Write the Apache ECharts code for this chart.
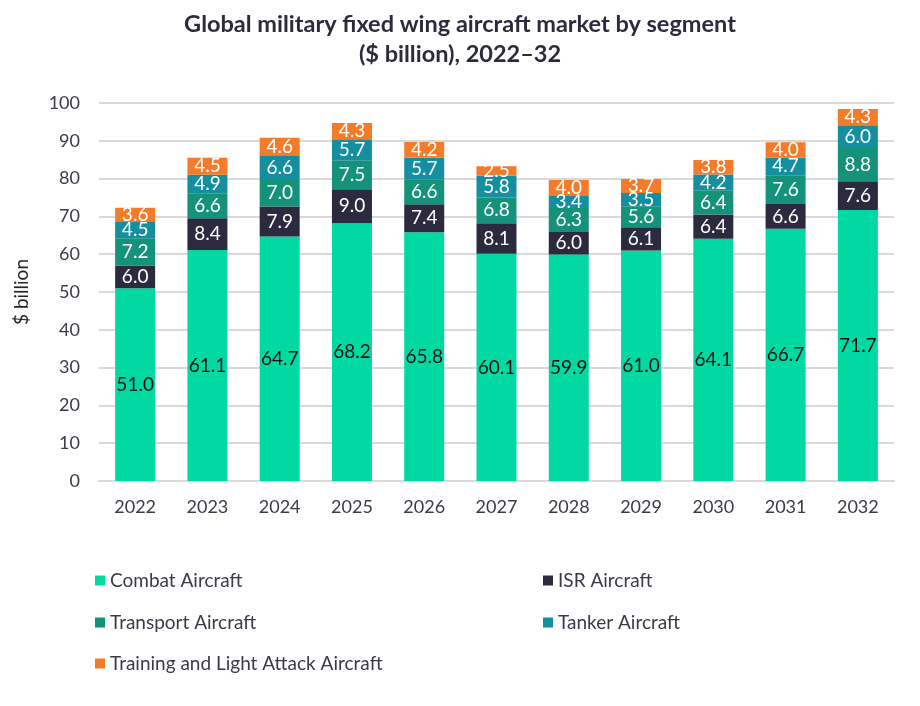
<!DOCTYPE html>
<html><head><meta charset="utf-8">
<script src="https://cdn.jsdelivr.net/npm/echarts@6/dist/echarts.min.js"></script>
<style>html,body{margin:0;padding:0;background:#fff}#c{width:920px;height:706px}</style>
</head><body><div id="c"></div>
<script>
var years = ['2022','2023','2024','2025','2026','2027','2028','2029','2030','2031','2032'];
var combat = [51.0, 61.1, 64.7, 68.2, 65.8, 60.1, 59.9, 61.0, 64.1, 66.7, 71.7];
var isr = [6.0, 8.4, 7.9, 9.0, 7.4, 8.1, 6.0, 6.1, 6.4, 6.6, 7.6];
var transport = [7.2, 6.6, 7.0, 7.5, 6.6, 6.8, 6.3, 5.6, 6.4, 7.6, 8.8];
var tanker = [4.5, 4.9, 6.6, 5.7, 5.7, 5.8, 3.4, 3.5, 4.2, 4.7, 6.0];
var training = [3.6, 4.5, 4.6, 4.3, 4.2, 2.5, 4.0, 3.7, 3.8, 4.0, 4.3];
var yTicks = [0,10,20,30,40,50,60,70,80,90,100];

var FONT = 'Lato, "Open Sans", sans-serif';
var TXT = '#3b3a48';
var names = ['Combat Aircraft','ISR Aircraft','Transport Aircraft','Tanker Aircraft','Training and Light Attack Aircraft'];
var colors = ['#00daa2','#2c2a3e','#14927a','#158f9f','#f47b29'];
var datas = [combat, isr, transport, tanker, training];
var labelColors = ['#111111','#ffffff','#ffffff','#ffffff','#ffffff'];

var series = datas.map(function(d,i){
  return {
    name: names[i], type:'bar', stack:'total', data:d, barWidth:40,
    itemStyle:{color:colors[i]},
    label:{show:true, position:'inside', color:labelColors[i], fontSize:19, fontFamily:FONT,
      formatter:function(p){return p.value.toFixed(1);}}
  };
});

var legPos = [[90,566],[538,566],[90,608],[538,608],[90,649]];
var legends = names.map(function(n,i){
  return {data:[n], left:legPos[i][0], top:legPos[i][1], icon:'rect', itemWidth:10, itemHeight:10, itemGap:4,
    textStyle:{fontSize:19, color:TXT, fontFamily:FONT}, selectedMode:false};
});

var chart = echarts.init(document.getElementById('c'));
chart.setOption({
  animation:false,
  title:{text:'Global military fixed wing aircraft market by segment\n($ billion), 2022\u201332', left:'center', top:4,
    textStyle:{fontSize:23.5, fontWeight:'bold', color:'#2d2a3e', fontFamily:FONT, lineHeight:30}},
  legend: legends,
  grid:{left:99, right:26, top:103, bottom:225},
  xAxis:{type:'category', data:years,
    axisLine:{lineStyle:{color:'#d9d9d9', width:2}}, axisTick:{show:false},
    axisLabel:{fontSize:18, color:TXT, margin:17, fontFamily:FONT}},
  yAxis:{type:'value', min:yTicks[0], max:yTicks[yTicks.length-1], interval:10,
    name:'$ billion', nameLocation:'middle', nameGap:68, nameRotate:90,
    nameTextStyle:{fontSize:19, color:'#262626', fontFamily:FONT},
    axisLine:{show:false}, axisTick:{show:false},
    axisLabel:{fontSize:18, color:TXT, margin:19, fontFamily:FONT},
    splitLine:{lineStyle:{color:'#d9d9d9', width:2}}},
  series: series
});
</script></body></html>
